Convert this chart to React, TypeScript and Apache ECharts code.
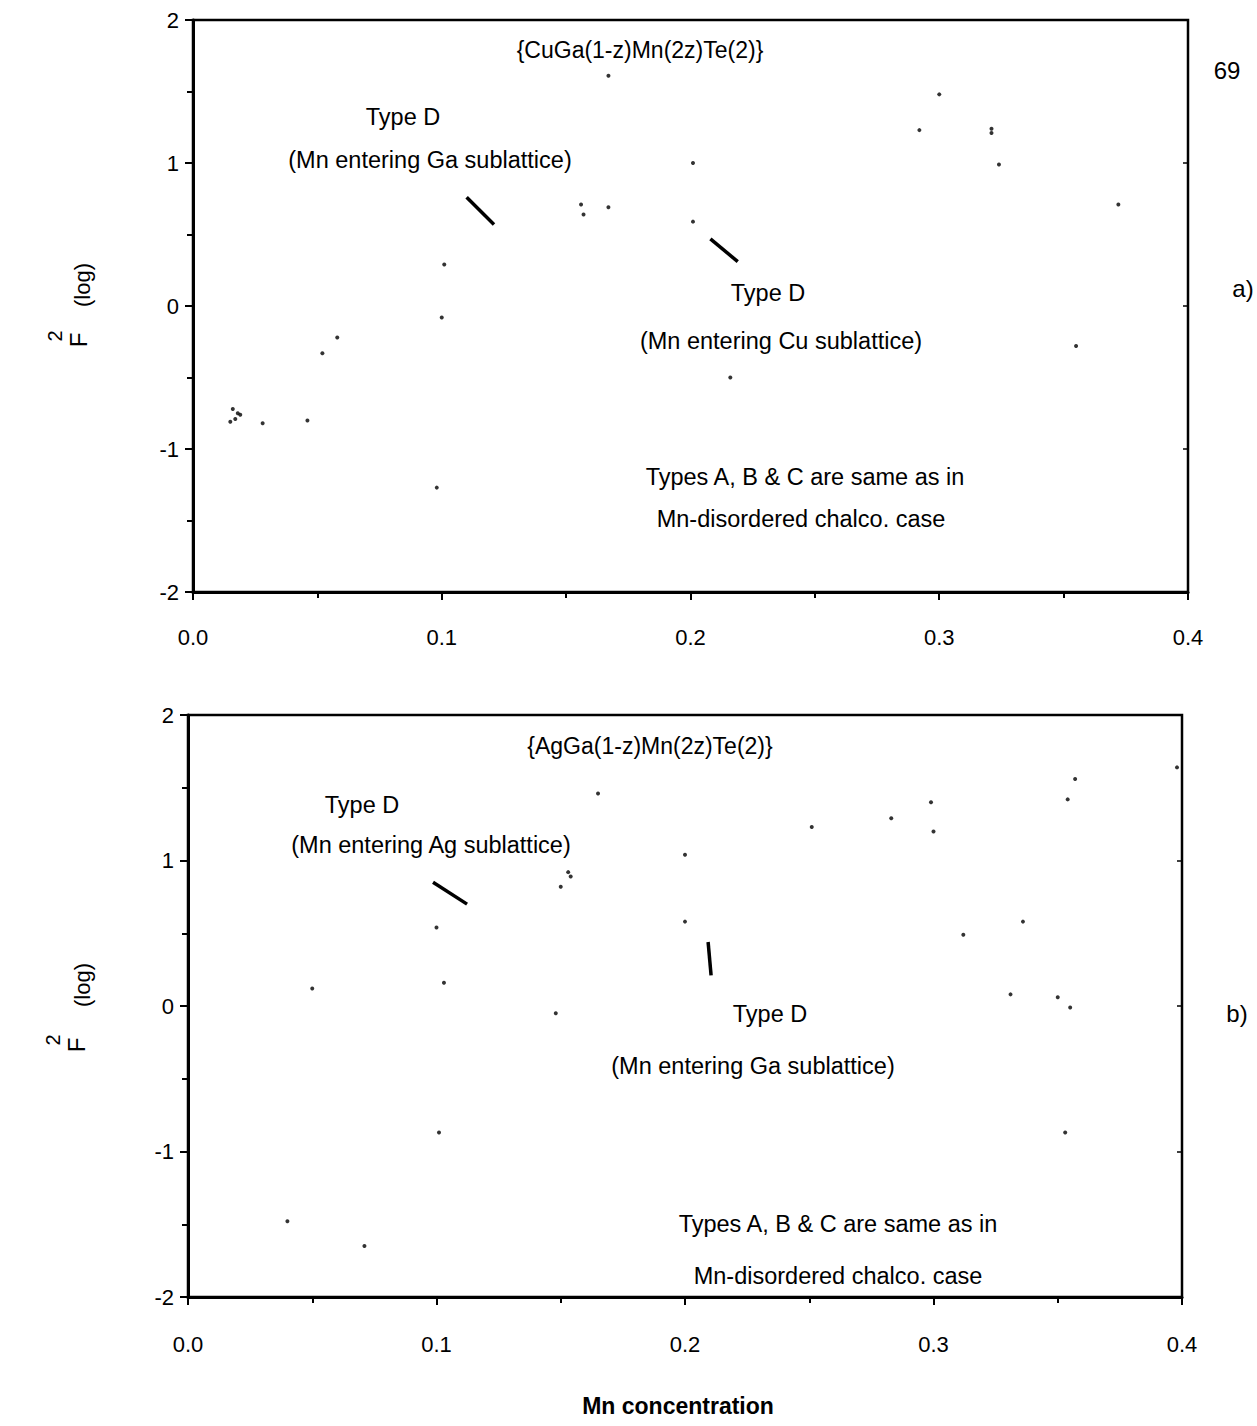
import React, { useEffect, useRef } from "react";
import * as echarts from "echarts";

// ---- data ----
const xTicks = [0.0, 0.1, 0.2, 0.3, 0.4];
const yTicks = [-2, -1, 0, 1, 2];

// panel a) {CuGa(1-z)Mn(2z)Te(2)} : stray points
const topX = [0.167, 0.300, 0.292, 0.321, 0.321, 0.201, 0.324, 0.372, 0.201, 0.156, 0.157, 0.167, 0.101, 0.100, 0.052, 0.058, 0.016, 0.018, 0.017, 0.019, 0.015, 0.028, 0.046, 0.098, 0.216, 0.355];
const topY = [1.61, 1.48, 1.23, 1.24, 1.21, 1.00, 0.99, 0.71, 0.59, 0.71, 0.64, 0.69, 0.29, -0.08, -0.33, -0.22, -0.72, -0.75, -0.79, -0.76, -0.81, -0.82, -0.80, -1.27, -0.50, -0.28];

// panel b) {AgGa(1-z)Mn(2z)Te(2)} : stray points
const botX = [0.165, 0.357, 0.354, 0.299, 0.300, 0.251, 0.283, 0.200, 0.153, 0.154, 0.150, 0.200, 0.100, 0.312, 0.336, 0.398, 0.050, 0.103, 0.148, 0.331, 0.350, 0.355, 0.101, 0.353, 0.040, 0.071];
const botY = [1.46, 1.56, 1.42, 1.40, 1.20, 1.23, 1.29, 1.04, 0.92, 0.89, 0.82, 0.58, 0.54, 0.49, 0.58, 1.64, 0.12, 0.16, -0.05, 0.08, 0.06, -0.01, -0.87, -0.87, -1.48, -1.65];

// leader lines (start/end in data units)
const topLeaderA: [number, number][] = [[0.110, 0.76], [0.121, 0.57]];
const topLeaderB: [number, number][] = [[0.208, 0.47], [0.219, 0.31]];
const botLeaderA: [number, number][] = [[0.0986, 0.85], [0.1123, 0.70]];
const botLeaderB: [number, number][] = [[0.2093, 0.44], [0.2105, 0.21]];

const FONT = "Liberation Sans, Arial, Helvetica, sans-serif";

function pairs(xs: number[], ys: number[]) {
  return xs.map((x, i) => [x, ys[i]]);
}

function txt(text: string, x: number, y: number, size = 23.5, extra: any = {}) {
  return {
    type: "text",
    x,
    y,
    silent: true,
    ...extra,
    style: {
      text,
      font: `${extra.weight || "normal"} ${size}px ${FONT}`,
      fill: "#000",
      align: "center",
      verticalAlign: "middle",
    },
  };
}

export default function App() {
  const ref = useRef<HTMLDivElement>(null);

  useEffect(() => {
    document.body.style.margin = "0";
    const chart = echarts.init(ref.current!, null, { renderer: "svg" });

    const xAxisBase = (gridIndex: number, margin: number) => ({
      type: "value",
      gridIndex,
      min: 0,
      max: 0.4,
      interval: 0.1,
      axisLine: { show: true, onZero: false, lineStyle: { color: "#000", width: 3 } },
      axisTick: { show: true, inside: false, length: 8, lineStyle: { color: "#000", width: 2 } },
      minorTick: { show: true, splitNumber: 2, length: 6, lineStyle: { color: "#000", width: 2 } },
      splitLine: { show: false },
      axisLabel: {
        margin,
        color: "#000",
        fontSize: 22,
        fontFamily: FONT,
        formatter: (v: number) => (xTicks.some((t) => Math.abs(t - v) < 1e-9) ? v.toFixed(1) : ""),
      },
    });

    const yAxisBase = (gridIndex: number) => ({
      type: "value",
      gridIndex,
      min: -2,
      max: 2,
      interval: 1,
      axisLine: { show: true, onZero: false, lineStyle: { color: "#000", width: 3 } },
      axisTick: { show: true, inside: false, length: 8, lineStyle: { color: "#000", width: 2 } },
      minorTick: { show: true, splitNumber: 2, length: 6, lineStyle: { color: "#000", width: 2 } },
      splitLine: { show: false },
      axisLabel: {
        margin: 14,
        color: "#000",
        fontSize: 22,
        fontFamily: FONT,
        formatter: (v: number) => (yTicks.includes(v) ? String(v) : ""),
      },
    });

    const yRight = (gridIndex: number) => ({
      type: "value",
      gridIndex,
      position: "right",
      min: -2,
      max: 2,
      interval: 1,
      axisLine: { show: true, onZero: false, lineStyle: { color: "#000", width: 2 } },
      axisTick: { show: true, inside: true, length: 5, lineStyle: { color: "#000", width: 1.5 } },
      axisLabel: { show: false },
      splitLine: { show: false },
    });

    const dotStyle = { color: "#000" };
    const leader = (data: [number, number][], xi: number, yi: number) => ({
      type: "line",
      xAxisIndex: xi,
      yAxisIndex: yi,
      data,
      symbol: "none",
      silent: true,
      lineStyle: { color: "#000", width: 3.5 },
    });

    chart.setOption({
      animation: false,
      backgroundColor: "#fff",
      grid: [
        { left: 193, top: 20, width: 995, height: 572, show: true, borderColor: "#000", borderWidth: 2.5 },
        { left: 188, top: 715, width: 994, height: 582, show: true, borderColor: "#000", borderWidth: 2.5 },
      ],
      xAxis: [xAxisBase(0, 34), xAxisBase(1, 36)],
      yAxis: [yAxisBase(0), yAxisBase(1), yRight(0), yRight(1)],
      series: [
        {
          type: "scatter",
          xAxisIndex: 0,
          yAxisIndex: 0,
          data: pairs(topX, topY),
          symbolSize: 4,
          itemStyle: dotStyle,
          silent: true,
        },
        {
          type: "scatter",
          xAxisIndex: 1,
          yAxisIndex: 1,
          data: pairs(botX, botY),
          symbolSize: 4,
          itemStyle: dotStyle,
          silent: true,
        },
        leader(topLeaderA, 0, 0),
        leader(topLeaderB, 0, 0),
        leader(botLeaderA, 1, 1),
        leader(botLeaderB, 1, 1),
      ],
      graphic: [
        // panel a
        txt("{CuGa(1-z)Mn(2z)Te(2)}", 640, 50, 23),
        txt("Type D", 403, 117),
        txt("(Mn entering Ga sublattice)", 430, 160),
        txt("Type D", 768, 293),
        txt("(Mn entering Cu sublattice)", 781, 341),
        txt("Types A, B & C are same as in", 805, 477),
        txt("Mn-disordered chalco. case", 801, 519),
        txt("69", 1227, 70, 24),
        txt("a)", 1243, 288, 24),
        txt("(log)", 82, 285, 22, { rotation: Math.PI / 2 }),
        txt("F", 78, 340, 24, { rotation: Math.PI / 2 }),
        txt("2", 55, 336, 20, { rotation: Math.PI / 2 }),
        // panel b
        txt("{AgGa(1-z)Mn(2z)Te(2)}", 650, 746, 23),
        txt("Type D", 362, 805),
        txt("(Mn entering Ag sublattice)", 431, 845),
        txt("Type D", 770, 1014),
        txt("(Mn entering Ga sublattice)", 753, 1066),
        txt("Types A, B & C are same as in", 838, 1224),
        txt("Mn-disordered chalco. case", 838, 1276),
        txt("b)", 1237, 1013, 24),
        txt("(log)", 82, 985, 22, { rotation: Math.PI / 2 }),
        txt("F", 76, 1045, 24, { rotation: Math.PI / 2 }),
        txt("2", 53, 1040, 20, { rotation: Math.PI / 2 }),
        txt("Mn concentration", 678, 1406, 23, { weight: "bold" }),
      ],
    });

    return () => chart.dispose();
  }, []);

  return <div ref={ref} style={{ width: 1257, height: 1426 }} />;
}
